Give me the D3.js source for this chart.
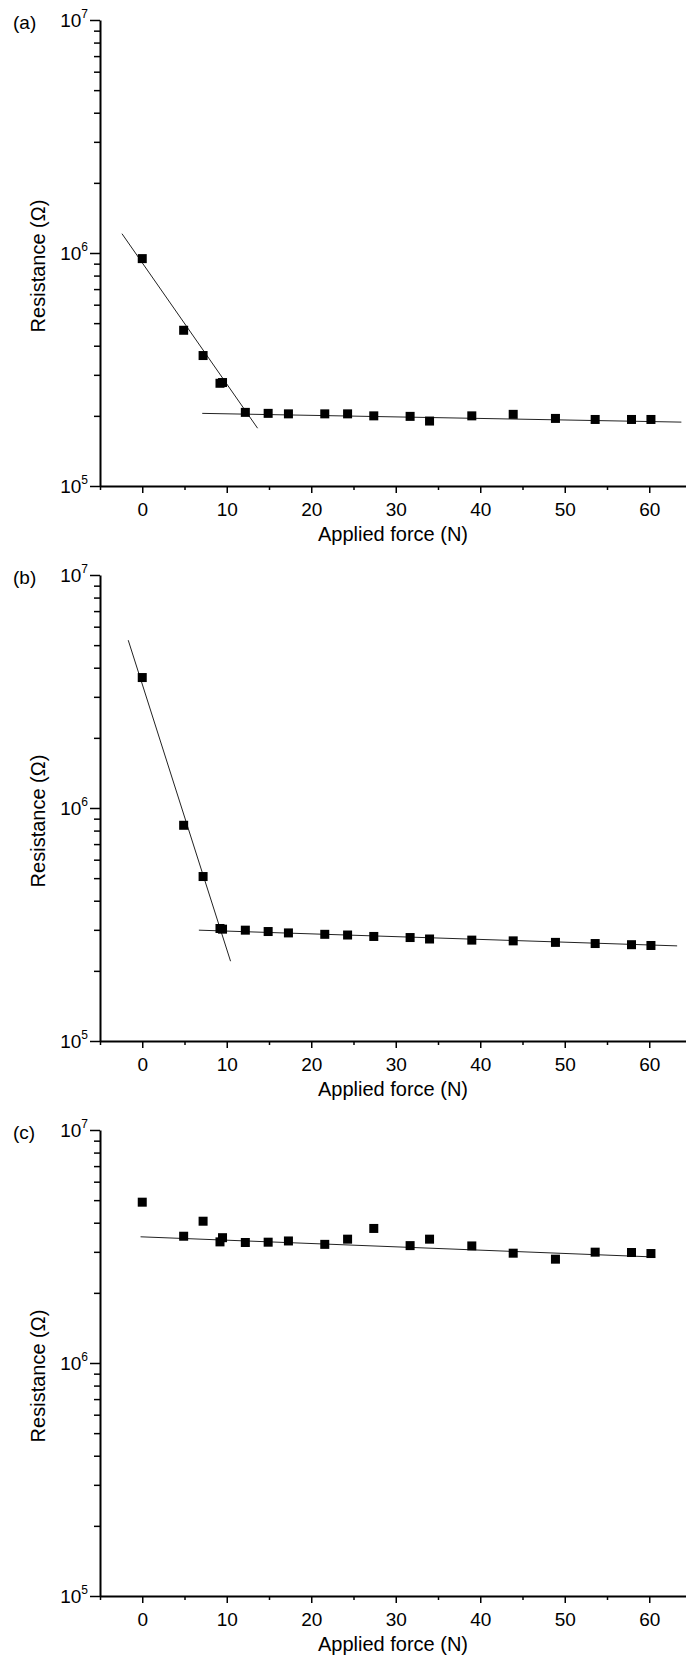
<!DOCTYPE html>
<html>
<head>
<meta charset="utf-8">
<script src="https://cdn.jsdelivr.net/npm/d3@7"></script>
<style>
  body { margin: 0; background: #fff; }
  svg { display: block; }
</style>
</head>
<body>
<div class="canvas"></div>
<script>
// data
const force = [0, 4.9, 7.2, 9.2, 9.5, 12.2, 14.9, 17.3, 21.6, 24.3, 27.4, 31.7, 34.0, 39.0, 43.9, 48.9, 53.6, 57.9, 60.2];

const resA = [9.46e5, 4.66e5, 3.63e5, 2.76e5, 2.78e5, 2.07e5, 2.05e5, 2.04e5, 2.04e5, 2.04e5, 2.0e5, 1.99e5, 1.90e5, 2.0e5, 2.03e5, 1.95e5, 1.93e5, 1.93e5, 1.93e5];
const resB = [3.63e6, 8.43e5, 5.08e5, 3.04e5, 3.02e5, 2.99e5, 2.95e5, 2.91e5, 2.87e5, 2.85e5, 2.81e5, 2.78e5, 2.74e5, 2.71e5, 2.69e5, 2.65e5, 2.62e5, 2.59e5, 2.57e5];
const resC = [4.9e6, 3.5e6, 4.06e6, 3.31e6, 3.45e6, 3.29e6, 3.30e6, 3.34e6, 3.23e6, 3.40e6, 3.78e6, 3.19e6, 3.40e6, 3.18e6, 2.96e6, 2.79e6, 2.99e6, 2.98e6, 2.95e6];

// fitted lines: [[force, R], [force, R]]
const fitA = [[[-2.4, 1.21e6], [13.65, 1.77e5]], [[7.1, 2.05e5], [63.8, 1.88e5]]];
const fitB = [[[-1.66, 5.25e6], [10.45, 2.20e5]], [[6.7, 2.99e5], [63.3, 2.56e5]]];
const fitC = [[[-0.2, 3.48e6], [60.7, 2.85e6]]];

const panelLabels = ["(a)", "(b)", "(c)"];
const xTicks = [0, 10, 20, 30, 40, 50, 60];
const xMinor = [-5, 5, 15, 25, 35, 45, 55, 65];
const yMajor = [1e5, 1e6, 1e7];
const yMinor = [2e5, 3e5, 4e5, 5e5, 6e5, 7e5, 8e5, 9e5, 2e6, 3e6, 4e6, 5e6, 6e6, 7e6, 8e6, 9e6];

const W = 686, H = 1662;
const svg = d3.select(".canvas").append("svg").attr("width", W).attr("height", H);

const font = "Liberation Sans, Arial, sans-serif";
const plot = { left: 100, height: 466, step: 555, top: 20 };

const x = d3.scaleLinear().domain([-5, 65]).range([plot.left, plot.left + 70 * 8.45]);

const panels = [
  { label: panelLabels[0], res: resA, fits: fitA },
  { label: panelLabels[1], res: resB, fits: fitB },
  { label: panelLabels[2], res: resC, fits: fitC }
];

panels.forEach((p, k) => {
  const top = plot.top + k * plot.step;
  const bottom = top + plot.height;
  const y = d3.scaleLog().domain([1e5, 1e7]).range([bottom, top]);
  const g = svg.append("g");

  // minor x ticks
  g.append("g")
    .attr("transform", `translate(0,${bottom})`)
    .call(d3.axisBottom(x).tickValues(xMinor).tickSize(4).tickFormat(""))
    .call(a => a.select(".domain").remove())
    .call(a => a.selectAll("line").attr("stroke", "#000").attr("stroke-width", 1.5));

  // major x ticks + labels
  g.append("g")
    .attr("transform", `translate(0,${bottom})`)
    .call(d3.axisBottom(x).tickValues(xTicks).tickSize(7).tickSizeOuter(0).tickPadding(10))
    .call(a => a.select(".domain").attr("stroke", "#000").attr("stroke-width", 2))
    .call(a => a.selectAll("line").attr("stroke", "#000").attr("stroke-width", 1.5))
    .call(a => a.selectAll("text").attr("font-family", font).attr("font-size", "19px").attr("fill", "#000"));

  // minor y ticks
  g.append("g")
    .attr("transform", `translate(${plot.left},0)`)
    .call(d3.axisLeft(y).tickValues(yMinor).tickSize(6).tickFormat(""))
    .call(a => a.select(".domain").remove())
    .call(a => a.selectAll("line").attr("stroke", "#000").attr("stroke-width", 1.5));

  // major y ticks
  g.append("g")
    .attr("transform", `translate(${plot.left},0)`)
    .call(d3.axisLeft(y).tickValues(yMajor).tickSize(10).tickSizeOuter(0).tickFormat(""))
    .call(a => a.select(".domain").attr("stroke", "#000").attr("stroke-width", 2))
    .call(a => a.selectAll("line").attr("stroke", "#000").attr("stroke-width", 1.5));

  // y tick labels with superscript exponent
  yMajor.forEach(v => {
    const t = g.append("text")
      .attr("x", 88)
      .attr("y", y(v) + 7)
      .attr("text-anchor", "end")
      .attr("font-family", font)
      .attr("font-size", "19px");
    t.append("tspan").text("10");
    t.append("tspan").attr("dy", -9).attr("font-size", "12px").text(Math.round(Math.log10(v)));
  });

  // axis titles
  g.append("text")
    .attr("x", (plot.left + W) / 2)
    .attr("y", bottom + 55)
    .attr("text-anchor", "middle")
    .attr("font-family", font)
    .attr("font-size", "20px")
    .text("Applied force (N)");

  g.append("text")
    .attr("transform", `translate(45,${(top + bottom) / 2 + 13}) rotate(-90)`)
    .attr("text-anchor", "middle")
    .attr("font-family", font)
    .attr("font-size", "20px")
    .text("Resistance (Ω)");

  g.append("text")
    .attr("x", 13)
    .attr("y", top + 9)
    .attr("font-family", font)
    .attr("font-size", "19px")
    .text(p.label);

  // fit lines
  const line = d3.line().x(d => x(d[0])).y(d => y(d[1]));
  p.fits.forEach(f => {
    g.append("path")
      .attr("d", line(f))
      .attr("fill", "none")
      .attr("stroke", "#222")
      .attr("stroke-width", 1);
  });

  // square markers
  const s = 9;
  g.selectAll("rect.pt")
    .data(force.map((f, i) => [f, p.res[i]]))
    .join("rect")
    .attr("class", "pt")
    .attr("x", d => x(d[0]) - s / 2)
    .attr("y", d => y(d[1]) - s / 2)
    .attr("width", s)
    .attr("height", s)
    .attr("fill", "#000");
});
</script>
</body>
</html>
